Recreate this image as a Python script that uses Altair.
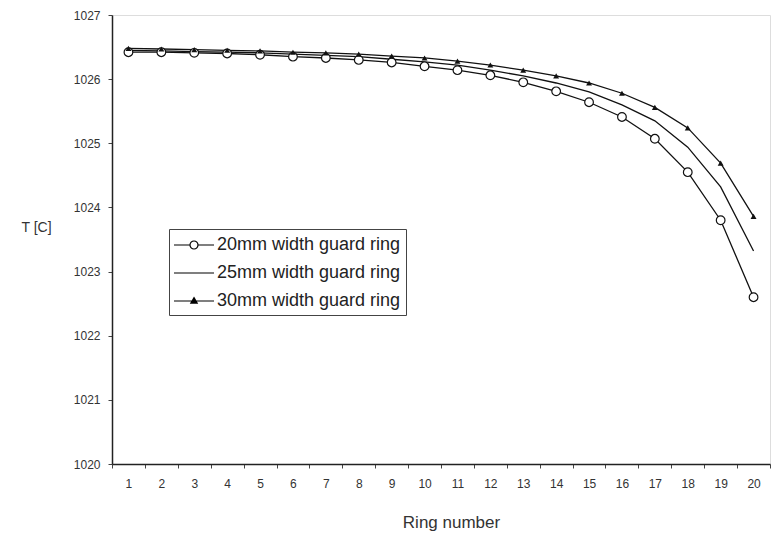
import altair as alt
import pandas as pd

rings = list(range(1, 21))
t_20mm = [1026.42, 1026.42, 1026.41, 1026.40, 1026.38, 1026.35, 1026.33, 1026.30, 1026.26, 1026.20,
          1026.14, 1026.06, 1025.95, 1025.81, 1025.64, 1025.41, 1025.07, 1024.55, 1023.80, 1022.60]
t_25mm = [1026.45, 1026.44, 1026.43, 1026.42, 1026.41, 1026.39, 1026.37, 1026.35, 1026.31, 1026.27,
          1026.22, 1026.14, 1026.05, 1025.94, 1025.80, 1025.60, 1025.35, 1024.94, 1024.32, 1023.32]
t_30mm = [1026.48, 1026.47, 1026.46, 1026.45, 1026.44, 1026.42, 1026.41, 1026.39, 1026.36, 1026.33,
          1026.28, 1026.22, 1026.14, 1026.05, 1025.94, 1025.78, 1025.56, 1025.24, 1024.69, 1023.86]
series_names = ["20mm width guard ring", "25mm width guard ring", "30mm width guard ring"]

rows = []
for name, vals in zip(series_names, [t_20mm, t_25mm, t_30mm]):
    for r, v in zip(rings, vals):
        rows.append({"ring": r, "T": v, "series": name})
df = pd.DataFrame(rows)

FONT = "Liberation Sans"

x_enc = alt.X("ring:O", title="Ring number",
              scale=alt.Scale(type="band", paddingInner=0, paddingOuter=0),
              axis=alt.Axis(labelAngle=0, tickBand="extent", tickSize=4, labelPadding=10,
                            labelFontSize=12, labelColor="#333", labelFont=FONT,
                            titleFont=FONT, titleFontSize=17, titleFontWeight="normal",
                            titleColor="#333", titleX=339, titleY=58, titleBaseline="middle",
                            domainColor="#222", domainWidth=1.5, tickColor="#444"))
y_enc = alt.Y("T:Q", title="T [C]",
              scale=alt.Scale(domain=[1020, 1027], nice=False, zero=False),
              axis=alt.Axis(values=[1020, 1021, 1022, 1023, 1024, 1025, 1026, 1027],
                            format="d", grid=False, tickSize=4, labelPadding=8,
                            labelFontSize=12, labelColor="#333", labelFont=FONT,
                            titleFont=FONT, titleFontSize=14, titleFontWeight="normal",
                            titleColor="#333", titleAngle=0, titleX=-76, titleY=212,
                            titleAlign="center", titleBaseline="middle",
                            domainColor="#222", domainWidth=1.5, tickColor="#444"))

base = alt.Chart(df)

lines = base.mark_line(color="#111", strokeWidth=1.3).encode(
    x=x_enc, y=y_enc, detail="series:N"
)

circles = base.transform_filter(alt.datum.series == series_names[0]).mark_point(
    shape="circle", size=75, fill="white", stroke="#111", strokeWidth=1.2, opacity=1
).encode(x=x_enc, y=y_enc)

triangles = base.transform_filter(alt.datum.series == series_names[2]).mark_point(
    shape="triangle-up", size=35, filled=True, color="#111", opacity=1
).encode(x=x_enc, y=y_enc)

# legend glyphs: line with marker (stroke-only paths, nested triangles look filled)
legend_paths = [
    "M-2,0H-0.4M0.4,0H2M0.4,0A0.4,0.4,0,1,1,-0.4,0A0.4,0.4,0,1,1,0.4,0",
    "M-2,0H2",
    "M-2,0H2M0,-0.34L0.32,0.22L-0.32,0.22ZM0,-0.2L0.18,0.14L-0.18,0.14ZM0,-0.1L0.08,0.08L-0.08,0.08Z",
]

leg = alt.Legend(title=None, orient="none", legendX=57, legendY=214,
                 symbolSize=400, symbolOpacity=1, symbolStrokeColor="black",
                 symbolStrokeWidth=1.2, symbolOffset=9, labelOffset=12,
                 padding=5, rowPadding=8, labelFont=FONT, labelFontSize=18,
                 labelColor="#222", labelLimit=400, strokeColor="#444",
                 fillColor="white")

legend_layer = base.mark_point(filled=False, color="black", strokeWidth=1.2, opacity=0).encode(
    x=x_enc, y=y_enc,
    shape=alt.Shape("series:N", scale=alt.Scale(domain=series_names, range=legend_paths), legend=leg),
)

chart = alt.layer(legend_layer, lines, circles, triangles).properties(
    width=658, height=449,
    autosize=alt.AutoSizeParams(type="none"),
    padding={"left": 112, "top": 15, "right": 2, "bottom": 71},
).configure_view(stroke="#222", strokeWidth=1.5).configure(background="white")

chart.save("out.html", embed_options={"renderer": "svg", "actions": False})
